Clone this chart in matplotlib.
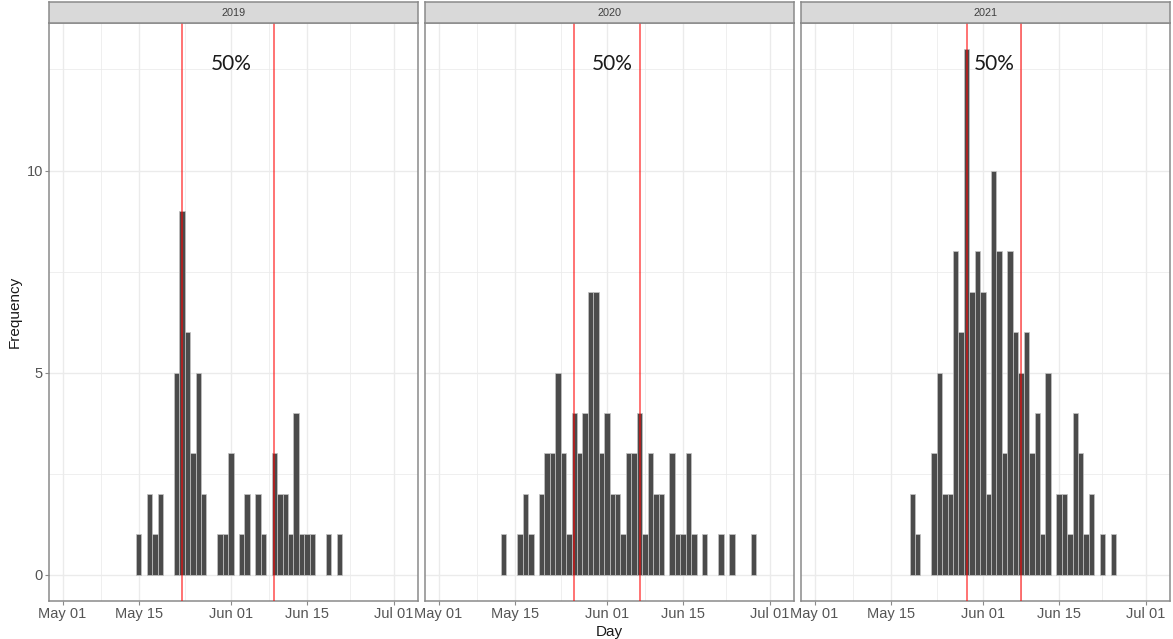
import matplotlib
matplotlib.use("Agg")
import matplotlib.pyplot as plt
import matplotlib.dates as mdates
import pandas as pd

# Daily counts per season (month-day of observation, number of records)
years = ["2019", "2020", "2021"]

days_2019 = ["05-15", "05-17", "05-18", "05-19", "05-22", "05-23", "05-24", "05-25",
             "05-26", "05-27", "05-30", "05-31", "06-01", "06-03", "06-04", "06-06",
             "06-07", "06-09", "06-10", "06-11", "06-12", "06-13", "06-14", "06-15",
             "06-16", "06-19", "06-21"]
counts_2019 = [1, 2, 1, 2, 5, 9, 6, 3, 5, 2, 1, 1, 3, 1, 2, 2, 1, 3, 2, 2, 1, 4, 1, 1, 1, 1, 1]

days_2020 = ["05-13", "05-16", "05-17", "05-18", "05-20", "05-21", "05-22", "05-23",
             "05-24", "05-25", "05-26", "05-27", "05-28", "05-29", "05-30", "05-31",
             "06-01", "06-02", "06-03", "06-04", "06-05", "06-06", "06-07", "06-08",
             "06-09", "06-10", "06-11", "06-13", "06-14", "06-15", "06-16", "06-17",
             "06-19", "06-22", "06-24", "06-28"]
counts_2020 = [1, 1, 2, 1, 2, 3, 3, 5, 3, 1, 4, 3, 4, 7, 7, 3, 4, 2, 2, 1, 3, 3, 4, 1,
               3, 2, 2, 3, 1, 1, 3, 1, 1, 1, 1, 1]

days_2021 = ["05-19", "05-20", "05-23", "05-24", "05-25", "05-26", "05-27", "05-28",
             "05-29", "05-30", "05-31", "06-01", "06-02", "06-03", "06-04", "06-05",
             "06-06", "06-07", "06-08", "06-09", "06-10", "06-11", "06-12", "06-13",
             "06-15", "06-16", "06-17", "06-18", "06-19", "06-20", "06-21", "06-23",
             "06-25"]
counts_2021 = [2, 1, 3, 5, 2, 2, 8, 6, 13, 7, 8, 7, 2, 10, 8, 3, 8, 6, 5, 6, 3, 4, 1, 5,
               2, 2, 1, 4, 3, 1, 2, 1, 1]

# Central 50% interval (lower and upper quartile dates)
quartiles_2019 = ["05-23", "06-09"]
quartiles_2020 = ["05-26", "06-07"]
quartiles_2021 = ["05-29", "06-08"]

interval_label = "50%"
label_days = ["06-01", "06-02", "06-03"]

x_tick_days = ["05-01", "05-15", "06-01", "06-15", "07-01"]
y_ticks = [0, 5, 10]

series_days = [days_2019, days_2020, days_2021]
series_counts = [counts_2019, counts_2020, counts_2021]
series_quartiles = [quartiles_2019, quartiles_2020, quartiles_2021]


def to_num(md_list):
    return mdates.date2num(pd.to_datetime(["2000-" + md for md in md_list]))


W, H = 1173, 639
fig = plt.figure(figsize=(W / 100, H / 100), dpi=100)

border = "#8a8a8a"
grid_col = "#ebebeb"
tick_col = "#555555"
bar_col = "#4b4b4b"

panel_lefts = [49, 425, 801]
panel_w = 369
top_px, bottom_px = 23, 601
strip_top = 2

x_ticks = to_num(x_tick_days)
x_minor = [(a + b) / 2 for a, b in zip(x_ticks[:-1], x_ticks[1:])]
x_lo = x_ticks[0] - 2.5
x_hi = x_ticks[0] + 65.45

for i, year in enumerate(years):
    left = panel_lefts[i] / W
    width = panel_w / W
    bottom = 1 - bottom_px / H
    height = (bottom_px - top_px) / H
    ax = fig.add_axes([left, bottom, width, height])

    x = to_num(series_days[i])
    ax.bar(x, series_counts[i], width=1.0, color=bar_col, edgecolor="#c4c4c4",
           linewidth=0.5, zorder=2)

    for q in to_num(series_quartiles[i]):
        ax.axvline(q, color="red", alpha=0.55, linewidth=1.4, zorder=3)

    ax.text(to_num([label_days[i]])[0], 12.48, interval_label, ha="center",
            va="baseline", fontsize=15, family="Lato", color="#1a1a1a", zorder=4)

    ax.set_xlim(x_lo, x_hi)
    ax.set_ylim(-0.65, 13.65)

    ax.set_xticks(x_ticks)
    ax.set_xticks(x_minor, minor=True)
    ax.xaxis.set_major_formatter(mdates.DateFormatter("%b %d"))
    ax.set_yticks(y_ticks)
    ax.set_yticks([2.5, 7.5, 12.5], minor=True)
    ax.grid(which="major", color=grid_col, linewidth=1.0, zorder=0)
    ax.grid(which="minor", color=grid_col, linewidth=0.55, zorder=0)
    ax.set_axisbelow(True)

    ax.tick_params(which="major", length=3, width=0.8, color=border,
                   labelsize=10.5, labelcolor=tick_col, pad=1.5)
    ax.tick_params(which="minor", length=0)
    for lab in ax.get_xticklabels() + ax.get_yticklabels():
        lab.set_family("Liberation Sans")
    if i > 0:
        ax.tick_params(axis="y", which="both", left=False, labelleft=False)

    for sp in ax.spines.values():
        sp.set_color(border)
        sp.set_linewidth(1.1)

    # facet strip
    sax = fig.add_axes([left, 1 - top_px / H, width, (top_px - strip_top) / H])
    sax.set_facecolor("#d9d9d9")
    sax.set_xticks([])
    sax.set_yticks([])
    for sp in sax.spines.values():
        sp.set_color(border)
        sp.set_linewidth(1.1)
    sax.text(0.5, 0.5, year, ha="center", va="center", fontsize=7.8,
             family="Liberation Sans", color="#404040", transform=sax.transAxes)

fig.text((49 + 1170) / 2 / W, 1 - 632 / H, "Day", ha="center", va="center",
         fontsize=11, family="Liberation Sans", color="#1a1a1a")
fig.text(15 / W, 1 - 312 / H, "Frequency", ha="center", va="center", rotation=90,
         fontsize=11, family="Liberation Sans", color="#1a1a1a")

fig.savefig("out.png", dpi=100)
